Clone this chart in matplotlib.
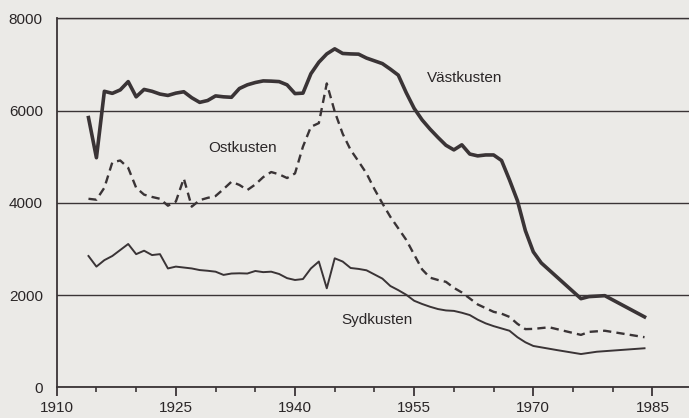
import matplotlib
matplotlib.use('Agg')
import matplotlib.pyplot as plt
from matplotlib.ticker import MultipleLocator

# Västkusten (thick solid)
vast_years = [1914, 1915, 1916, 1917, 1918, 1919, 1920, 1921, 1922, 1923, 1924, 1925, 1926,
              1927, 1928, 1929, 1930, 1931, 1932, 1933, 1934, 1935, 1936, 1937, 1938, 1939,
              1940, 1941, 1942, 1943, 1944, 1945, 1946, 1947, 1948, 1949, 1950, 1951, 1952,
              1953, 1954, 1955, 1956, 1957, 1958, 1959, 1960, 1961, 1962, 1963, 1964, 1965,
              1966, 1967, 1968, 1969, 1970, 1971, 1976, 1977, 1979, 1984]
vast_vals = [5850, 4980, 6420, 6375, 6450, 6630, 6300, 6460, 6420, 6360, 6330, 6380, 6410,
             6280, 6180, 6220, 6320, 6300, 6290, 6480, 6560, 6610, 6645, 6640, 6630, 6560,
             6370, 6380, 6800, 7050, 7230, 7340, 7240, 7230, 7225, 7140, 7080, 7020, 6900,
             6770, 6390, 6050, 5800, 5600, 5420, 5250, 5150, 5260, 5060, 5020, 5040, 5040,
             4920, 4500, 4050, 3400, 2940, 2700, 1925, 1970, 1990, 1530]

# Ostkusten (dashed)
ost_years = [1914, 1915, 1916, 1917, 1918, 1919, 1920, 1921, 1922, 1923, 1924, 1925, 1926,
             1927, 1928, 1929, 1930, 1931, 1932, 1933, 1934, 1935, 1936, 1937, 1938, 1939,
             1940, 1941, 1942, 1943, 1944, 1945, 1946, 1947, 1948, 1949, 1950, 1951, 1952,
             1953, 1954, 1955, 1956, 1957, 1958, 1959, 1960, 1961, 1962, 1963, 1964, 1965,
             1966, 1967, 1968, 1969, 1970, 1972, 1976, 1977, 1979, 1984]
ost_vals = [4090, 4070, 4330, 4880, 4920, 4760, 4330, 4180, 4130, 4090, 3940, 4030, 4530,
            3920, 4060, 4110, 4150, 4300, 4460, 4390, 4280, 4400, 4560, 4670, 4620, 4540,
            4640, 5220, 5650, 5730, 6590, 5980, 5500, 5150, 4900, 4640, 4300, 3990, 3700,
            3450, 3200, 2880, 2560, 2380, 2330, 2290, 2160, 2060, 1930, 1800, 1720, 1640,
            1600, 1530, 1380, 1265, 1270, 1305, 1140, 1205, 1230, 1090]

# Sydkusten (thin solid)
syd_years = [1914, 1915, 1916, 1917, 1919, 1920, 1921, 1922, 1923, 1924, 1925, 1926, 1927,
             1928, 1929, 1930, 1931, 1932, 1933, 1934, 1935, 1936, 1937, 1938, 1939, 1940,
             1941, 1942, 1943, 1944, 1945, 1946, 1947, 1948, 1949, 1950, 1951, 1952, 1953,
             1954, 1955, 1956, 1957, 1958, 1959, 1960, 1961, 1962, 1963, 1964, 1965, 1966,
             1967, 1968, 1969, 1970, 1973, 1976, 1978, 1984]
syd_vals = [2850, 2620, 2760, 2850, 3110, 2890, 2965, 2870, 2890, 2580, 2620, 2600, 2580,
            2545, 2530, 2510, 2440, 2470, 2475, 2470, 2525, 2500, 2510, 2460, 2370, 2330,
            2350, 2580, 2730, 2150, 2800, 2730, 2590, 2570, 2540, 2450, 2360, 2200, 2110,
            2010, 1880, 1810, 1750, 1700, 1670, 1660, 1620, 1570, 1470, 1390, 1330, 1280,
            1230, 1090, 980, 900, 810, 725, 775, 850]

y_ticks = [0, 2000, 4000, 6000, 8000]
x_ticks = [1910, 1925, 1940, 1955, 1970, 1985]

INK = '#3a3436'
BG = '#ebeae7'
plt.rcParams['font.family'] = ['Liberation Sans', 'DejaVu Sans']

fig = plt.figure(figsize=(6.89, 4.18), dpi=100, facecolor=BG)
ax = fig.add_axes([0.0823, 0.073, 0.9177, 0.883])
ax.set_facecolor(BG)

ax.plot(vast_years, vast_vals, color=INK, lw=2.6, solid_joinstyle='round')
ax.plot(ost_years, ost_vals, color=INK, lw=1.7, ls=(0, (3.5, 2.2)))
ax.plot(syd_years, syd_vals, color=INK, lw=1.4)

ax.set_xlim(1910, 1989.6)
ax.set_ylim(0, 8000)
ax.set_xticks(x_ticks)
ax.xaxis.set_minor_locator(MultipleLocator(5))
ax.set_yticks(y_ticks)
ax.yaxis.grid(True, color=INK, lw=1.0)
ax.set_axisbelow(True)

for s in ['right']:
    ax.spines[s].set_visible(False)
for s in ['left', 'bottom', 'top']:
    ax.spines[s].set_color(INK)
    ax.spines[s].set_linewidth(1.3)
ax.spines['top'].set_linewidth(1.0)

ax.tick_params(axis='x', which='major', direction='out', length=6.5, width=1.3,
               color=INK, labelsize=11, labelcolor='#2a2627', pad=3)
ax.tick_params(axis='x', which='minor', direction='out', length=3.5, width=1.2, color=INK)
ax.tick_params(axis='y', length=0, pad=10, labelsize=11, labelcolor='#2a2627')

ax.text(1961.4, 6706, 'Västkusten', ha='center', va='center', fontsize=11, color='#2a2627')
ax.text(1933.4, 5188, 'Ostkusten', ha='center', va='center', fontsize=11, color='#2a2627')
ax.text(1950.3, 1463, 'Sydkusten', ha='center', va='center', fontsize=11, color='#2a2627')

fig.savefig('out.png', dpi=100, facecolor=BG)
